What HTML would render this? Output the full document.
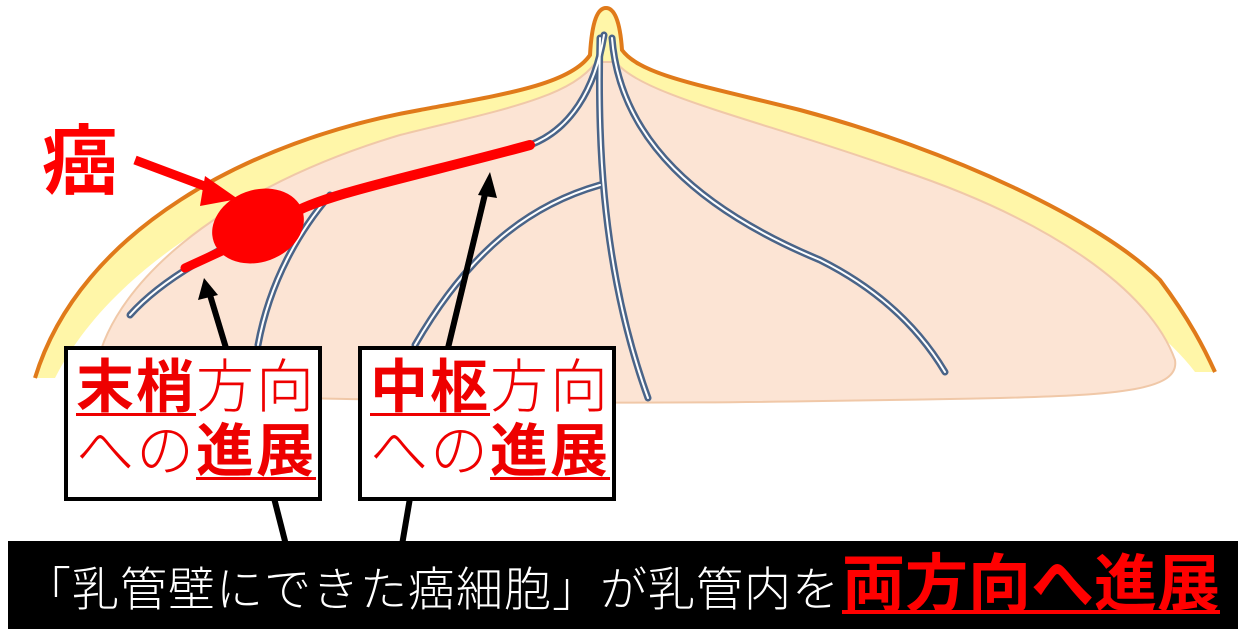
<!DOCTYPE html>
<html><head><meta charset="utf-8"><style>
body{margin:0;width:1244px;height:636px;overflow:hidden;background:#fff;font-family:"Liberation Sans","Noto Sans CJK JP",sans-serif}
svg{position:absolute;left:0;top:0}
.box{position:absolute;background:#fff;border:4px solid #000;box-sizing:border-box;width:258px;height:155px;top:346px;color:#e00;font-size:58px;line-height:64px;padding:6px 0 0 8px;white-space:nowrap;letter-spacing:2px}
.box b{font-weight:bold;text-decoration:underline;text-decoration-thickness:3px;text-underline-offset:6px}
.box span{font-weight:300}
.banner{position:absolute;left:8px;top:541px;width:1230px;height:88px;background:#000;color:#fff;font-size:47px;line-height:88px;white-space:nowrap;padding-left:16px;box-sizing:border-box;font-weight:300;letter-spacing:1px}
.banner b{color:#f00;font-size:63px;font-weight:bold;letter-spacing:0;text-decoration:underline;text-decoration-thickness:4px;text-underline-offset:4px;margin-left:2px}
.gan{position:absolute;left:42px;top:100px;font-size:76px;font-weight:bold;color:#f00;font-family:"Noto Sans CJK JP",sans-serif}
</style></head><body>
<svg width="1244" height="636" viewBox="0 0 1244 636">
<path d="M35,378 C80,230 250,140 420,110 C500,95 570,85 590,55 C592,20 598,8 606,8 C614,8 620,20 622,50 C640,75 700,85 800,110 C950,150 1100,220 1160,280 C1190,320 1205,350 1215,372 L1195,372 C1140,300 1000,220 700,110 L540,110 C300,150 120,250 55,378 Z" fill="#fff6a8"/>
<path d="M35,378 C80,230 250,140 420,110 C500,95 570,85 590,55 C592,20 598,8 606,8 C614,8 620,20 622,50 C640,75 700,85 800,110 C950,150 1100,220 1160,280 C1190,320 1205,350 1215,372" fill="none" stroke="#e07a1a" stroke-width="4"/>
<path d="M95,380 C100,300 200,195 400,135 C500,110 570,98 596,62 L616,62 C640,95 760,120 900,170 C1050,220 1150,290 1175,360 C1180,390 1120,395 1000,398 C800,402 600,405 400,400 C250,397 150,398 95,380 Z" fill="#fce4d4" stroke="#f0c8a8" stroke-width="2"/>
<g fill="none" stroke-linecap="round">
<g stroke="#4a6488" stroke-width="7">
<path d="M604,35 C595,90 570,130 530,145 C420,175 320,195 290,215 C240,240 170,270 130,315"/>
<path d="M600,38 C598,120 598,260 648,398"/>
<path d="M600,185 C530,205 470,250 415,345"/>
<path d="M612,38 C620,140 700,210 820,260 C880,290 920,330 945,372"/>
<path d="M330,195 C300,230 270,280 258,345"/>
</g>
<g stroke="#fff" stroke-width="2">
<path d="M604,35 C595,90 570,130 530,145 C420,175 320,195 290,215 C240,240 170,270 130,315"/>
<path d="M600,38 C598,120 598,260 648,398"/>
<path d="M600,185 C530,205 470,250 415,345"/>
<path d="M612,38 C620,140 700,210 820,260 C880,290 920,330 945,372"/>
<path d="M330,195 C300,230 270,280 258,345"/>
</g>
<path d="M530,145 C420,175 320,195 290,215" stroke="#f00" stroke-width="10"/>
<path d="M235,245 L185,268" stroke="#f00" stroke-width="9"/>
</g>
<ellipse cx="258" cy="226" rx="47" ry="36" fill="#f00" transform="rotate(-20 258 226)"/>
<line x1="135" y1="160" x2="215" y2="190" stroke="#f00" stroke-width="9"/>
<polygon points="238,199 205,176 200,206" fill="#f00"/>
<g stroke="#000" stroke-width="6">
<line x1="226" y1="348" x2="210" y2="295"/>
<line x1="448" y1="348" x2="486" y2="190"/>
<line x1="274" y1="498" x2="286" y2="545"/>
<line x1="410" y1="498" x2="402" y2="545"/>
</g>
<polygon points="204,278 198,300 218,295" fill="#000"/>
<polygon points="490,172 478,195 497,198" fill="#000"/>
</svg>
<div class="gan">癌</div>
<div class="box" style="left:64px"><b>末梢</b><span>方向</span><br><span>への</span><b>進展</b></div>
<div class="box" style="left:358px"><b>中枢</b><span>方向</span><br><span>への</span><b>進展</b></div>
<div class="banner">「乳管壁にできた癌細胞」が乳管内を<b>両方向へ進展</b></div>
</body></html>
